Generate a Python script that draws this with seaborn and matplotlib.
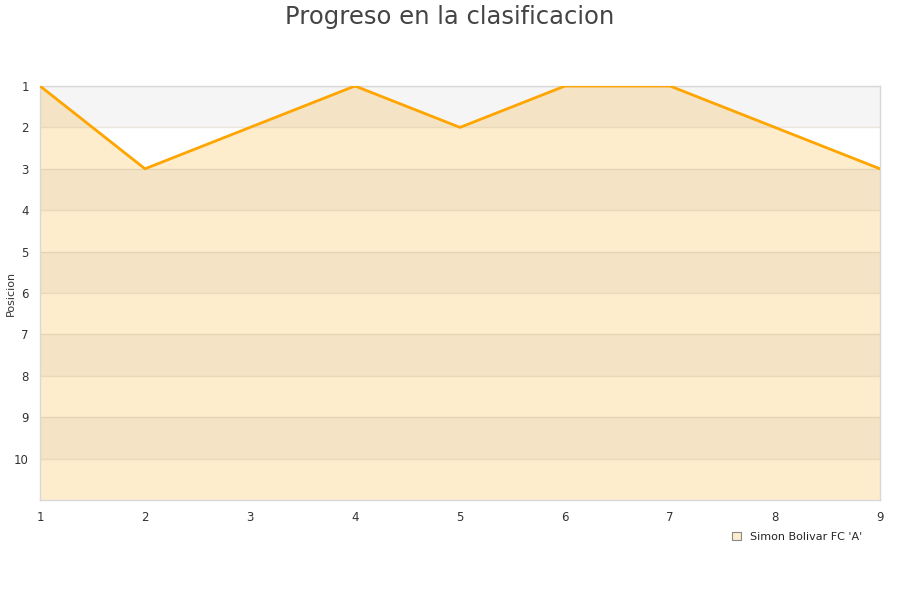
import matplotlib
matplotlib.use('Agg')
import matplotlib.pyplot as plt
from matplotlib.patches import Patch
import seaborn as sns
import pandas as pd

# jornadas y posicion del equipo
jornadas = [1, 2, 3, 4, 5, 6, 7, 8, 9]
posiciones = [1, 3, 2, 1, 2, 1, 1, 2, 3]
equipo = "Simon Bolivar FC 'A'"
titulo = 'Progreso en la clasificacion'

df = pd.DataFrame({'jornada': jornadas, 'posicion': posiciones})

sns.set_theme(style='white')
plt.rcParams['font.family'] = ['DejaVu Sans']

fig = plt.figure(figsize=(9, 6), dpi=100)
ax = fig.add_axes([40 / 900, 100 / 600, 840 / 900, 414 / 600])

# area bajo la linea
ax.fill_between(df.jornada, df.posicion, 11, color='#feedcc', zorder=1, lw=0)

# bandas alternas
for i in range(1, 11, 2):
    ax.axhspan(i, i + 1, color='black', alpha=0.04, lw=0, zorder=2)
for i in range(1, 11):
    ax.axhline(i, color='#c8b898', alpha=0.35, lw=1, zorder=2)

sns.lineplot(data=df, x='jornada', y='posicion', color='orange', lw=2,
             ax=ax, zorder=3)

ax.set_xlim(1, 9)
ax.set_ylim(11, 1)
ax.set_xticks(jornadas)
ax.set_yticks(range(1, 11))
ax.tick_params(axis='both', labelsize=8.5, colors='#333333', length=0, pad=8)
ax.set_xlabel('')
ax.set_ylabel('')
fig.text(11 / 900, 1 - 293 / 600, 'Posicion', rotation=90, fontsize=8,
         color='#333333', ha='center', va='center')
for s in ax.spines.values():
    s.set_color('#d8d8d8')
    s.set_linewidth(1)

fig.suptitle(titulo, fontsize=17.5, color='#444444', y=0.992)

handle = Patch(facecolor='#feedcc', edgecolor='#888888', lw=0.8)
fig.legend([handle], [equipo], loc='center left', bbox_to_anchor=(722 / 900, 1 - 537 / 600),
           frameon=False, fontsize=8, handlelength=0.8, handleheight=0.8, handletextpad=0.8)

fig.savefig('out.png', dpi=100)
